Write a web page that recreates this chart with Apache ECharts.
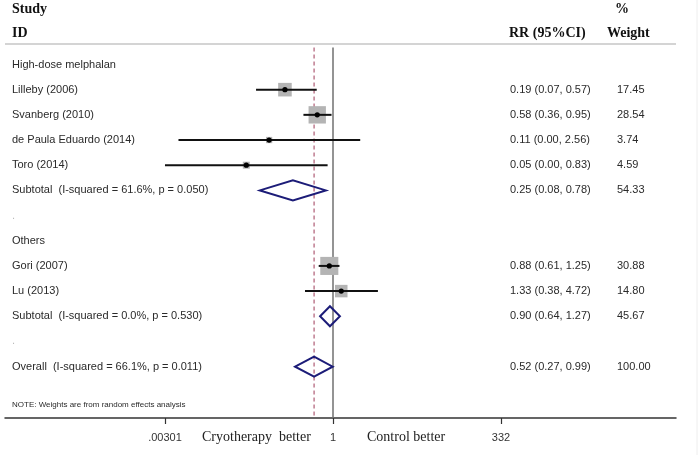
<!DOCTYPE html>
<html><head><meta charset="utf-8">
<script src="https://cdn.jsdelivr.net/npm/echarts@6/dist/echarts.min.js"></script>
<style>html,body{margin:0;padding:0;background:#fff}#c{width:700px;height:455px}</style>
</head><body><div id="c"></div>
<script>
// ---------- data ----------
const groupHeaders = ['High-dose melphalan', 'Others'];
const groupHeaderRows = [0, 7];
const studies = ['Lilleby (2006)', 'Svanberg (2010)', 'de Paula Eduardo (2014)', 'Toro (2014)', 'Gori (2007)', 'Lu (2013)'];
const studyRows = [1, 2, 3, 4, 8, 9];
const rr = [0.19, 0.58, 0.11, 0.05, 0.88, 1.33];
const lo = [0.07, 0.36, 0.0048, 0.00301, 0.61, 0.38];
const hi = [0.57, 0.95, 2.56, 0.83, 1.25, 4.72];
const weights = [17.45, 28.54, 3.74, 4.59, 30.88, 14.80];
const pooledLabels = ['Subtotal  (I-squared = 61.6%, p = 0.050)', 'Subtotal  (I-squared = 0.0%, p = 0.530)', 'Overall  (I-squared = 66.1%, p = 0.011)'];
const pooledRows = [5, 10, 12];
const pooledRR = [0.25, 0.90, 0.52];
const pooledLo = [0.08, 0.64, 0.27];
const pooledHi = [0.78, 1.27, 0.99];
const pooledW = [54.33, 45.67, 100.00];
const spacerRows = [6, 11];
const noteRow = 13.52;
const noteText = 'NOTE: Weights are from random effects analysis';
const tickValues = [0.00301, 1, 332];
const tickLabels = ['.00301', '1', '332'];
const nullValue = 1;
const overallRR = 0.52;

// ---------- layout ----------
const X_MIN = Math.pow(10, -4.922), X_MAX = Math.pow(10, 5.147);
const Y_MIN = -0.774, Y_MAX = 14.04;
const sans = 'Arial, "Liberation Sans", sans-serif';
const serif = '"Times New Roman", "Liberation Serif", serif';

const chart = echarts.init(document.getElementById('c'), null, {renderer: 'canvas'});

const studyData = rr.map((v, i) => [v, studyRows[i], lo[i], hi[i], weights[i]]);
const pooledData = pooledRR.map((v, i) => [v, pooledRows[i], pooledLo[i], pooledHi[i]]);

chart.setOption({
  animation: false,
  backgroundColor: '#fff',
  grid: {left: 5, right: 24, top: 45, bottom: 37},
  xAxis: {
    type: 'log', logBase: 10, min: X_MIN, max: X_MAX,
    splitLine: {show: false},
    axisLine: {show: true, onZero: false, lineStyle: {color: '#333', width: 1.5}},
    axisTick: {show: true, length: 6, customValues: tickValues, lineStyle: {color: '#333', width: 1.2}},
    axisLabel: {
      customValues: tickValues, margin: 14, fontSize: 11, fontFamily: sans, color: '#333',
      formatter: v => { const k = tickValues.findIndex(t => Math.abs(Math.log10(t) - Math.log10(v)) < 1e-6); return k >= 0 ? tickLabels[k] : ''; }
    }
  },
  yAxis: {type: 'value', inverse: true, min: Y_MIN, max: Y_MAX, show: false},
  series: [
    {type: 'line', symbol: 'none', silent: true, z: 1,
     data: [[nullValue, Y_MIN + 0.1], [nullValue, Y_MAX]],
     lineStyle: {color: '#707070', width: 1.5}},
    {type: 'line', symbol: 'none', silent: true, z: 1,
     data: [[overallRR, Y_MIN + 0.1], [overallRR, Y_MAX]],
     lineStyle: {color: '#9e3a58', width: 1, type: [4, 3]}},
    {type: 'custom', clip: false, z: 3,
     encode: {x: [0, 2, 3], y: 1},
     data: studyData,
     renderItem: (params, api) => {
       const c = api.coord([api.value(0), api.value(1)]);
       const l = api.coord([api.value(2), api.value(1)]);
       const h = api.coord([api.value(3), api.value(1)]);
       const s = 3.25 * Math.sqrt(api.value(4));
       return {type: 'group', children: [
         {type: 'rect', shape: {x: c[0] - s / 2, y: c[1] - s / 2, width: s, height: s}, style: {fill: '#b4b4b4'}},
         {type: 'line', shape: {x1: l[0], y1: l[1], x2: h[0], y2: h[1]}, style: {stroke: '#111', lineWidth: 2}},
         {type: 'circle', shape: {cx: c[0], cy: c[1], r: 2.6}, style: {fill: '#000'}}
       ]};
     }},
    {type: 'custom', clip: false, z: 3,
     encode: {x: [0, 2, 3], y: 1},
     data: pooledData,
     renderItem: (params, api) => {
       const c = api.coord([api.value(0), api.value(1)]);
       const l = api.coord([api.value(2), api.value(1)]);
       const h = api.coord([api.value(3), api.value(1)]);
       return {type: 'polygon', shape: {points: [[l[0], c[1]], [c[0], c[1] - 10], [h[0], c[1]], [c[0], c[1] + 10]]},
               style: {fill: 'none', stroke: '#1c1c78', lineWidth: 2, lineJoin: 'miter'}};
     }}
  ]
});

// ---------- table text ----------
const yOf = r => chart.convertToPixel({yAxisIndex: 0}, r);
const g = [];
const txt = (x, y, text, opt) => g.push({type: 'text', x, y, silent: true,
  style: Object.assign({text, fill: '#2a2a2a', font: '11px ' + sans, textAlign: 'left', textVerticalAlign: 'middle'}, opt || {})});
const fmt = v => v.toFixed(2);
const hdr = '700 14px ' + serif;
txt(12, 9, 'Study', {font: hdr, fill: '#111'});
txt(12, 33, 'ID', {font: hdr, fill: '#111'});
txt(622, 9, '%', {font: hdr, fill: '#111', textAlign: 'center'});
txt(509, 33, 'RR (95%CI)', {font: hdr, fill: '#111'});
txt(607, 33, 'Weight', {font: hdr, fill: '#111'});
g.push({type: 'line', silent: true, shape: {x1: 5, y1: 44, x2: 676, y2: 44}, style: {stroke: '#d4d4d4', lineWidth: 2}});
g.push({type: 'line', silent: true, shape: {x1: 697, y1: 0, x2: 697, y2: 455}, style: {stroke: '#eeeeee', lineWidth: 1}});
groupHeaders.forEach((t, i) => txt(12, yOf(groupHeaderRows[i]), t));
studies.forEach((t, i) => {
  const y = yOf(studyRows[i]);
  txt(12, y, t);
  txt(510, y, fmt(rr[i]) + ' (' + fmt(lo[i]) + ', ' + fmt(hi[i]) + ')');
  txt(617, y, fmt(weights[i]));
});
pooledLabels.forEach((t, i) => {
  const y = yOf(pooledRows[i]);
  txt(12, y, t);
  txt(510, y, fmt(pooledRR[i]) + ' (' + fmt(pooledLo[i]) + ', ' + fmt(pooledHi[i]) + ')');
  txt(617, y, fmt(pooledW[i]));
});
spacerRows.forEach(r => txt(12, yOf(r), '.', {fill: '#bbb'}));
txt(12, yOf(noteRow), noteText, {font: '8px ' + sans});
txt(202, 437, 'Cryotherapy  better', {font: '14px ' + serif, fill: '#222'});
txt(367, 437, 'Control better', {font: '14px ' + serif, fill: '#222'});
chart.setOption({graphic: g});
</script>
</body></html>
